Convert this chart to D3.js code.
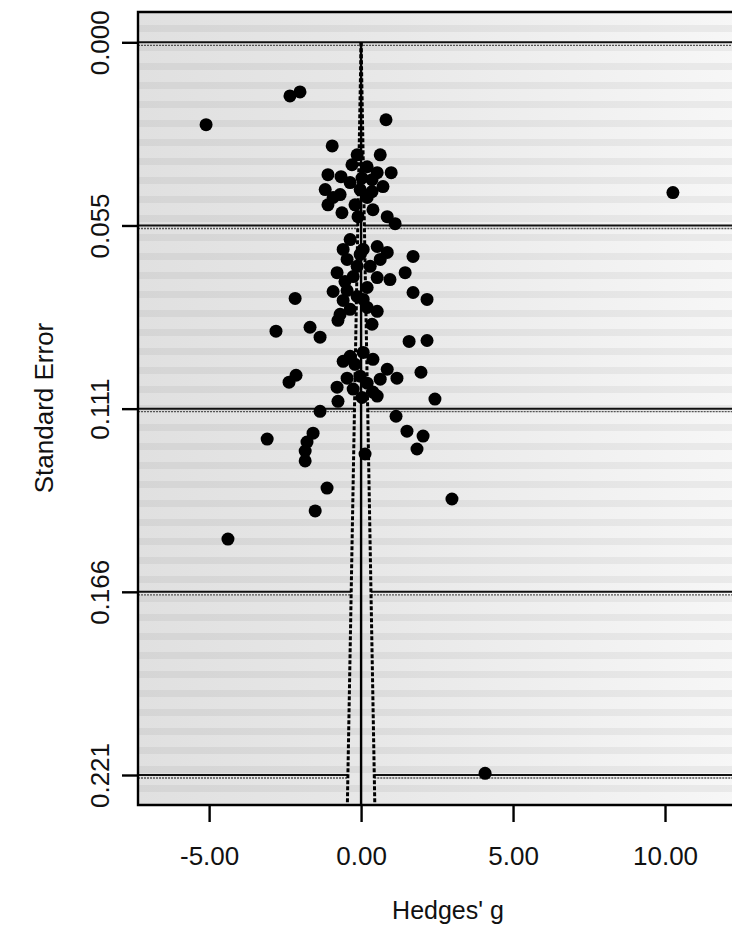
<!DOCTYPE html>
<html><head><meta charset="utf-8">
<script src="https://cdn.jsdelivr.net/npm/d3@7"></script>
<style>body{margin:0;background:#fff}svg{display:block}text{font-family:"Liberation Sans",Arial,sans-serif;fill:#111}</style>
</head><body><svg id="c" width="732" height="942"></svg>
<script>
// Hedges' g per study
const hedgesG = [-5.10,-2.34,-2.01,0.82,-0.95,-0.13,0.63,10.26,-1.09,-0.66,0.20,0.53,0.99,-0.36,0.36,-1.18,-0.69,-0.03,0.36,0.72,
 -1.09,-0.63,-0.10,0.39,0.86,1.12,-0.92,0.20,-0.59,0.07,0.53,0.86,-0.46,0.63,-0.13,0.30,-0.79,0.53,0.95,-0.26,
 1.71,1.45,1.71,2.17,-2.17,-0.92,-0.46,0.20,-0.13,-0.59,0.07,-0.69,-0.36,0.20,0.53,-0.76,-2.80,-1.68,-1.35,1.58,
 2.17,-0.36,0.07,0.39,-0.59,-2.14,-2.37,0.86,1.18,1.97,-0.46,-0.03,0.20,0.39,-0.26,-0.79,-0.76,0.53,2.43,-1.35,
 1.15,1.51,2.04,1.84,0.13,-3.09,-1.58,-1.78,-1.84,-1.84,-1.12,-1.51,2.99,-4.38,4.08,-0.30,0.03,-0.20,-0.36,-0.03,
 -0.53,0.36,-0.20,0.63,0.03];
// Standard error per study
const stdErr = [0.0249,0.0162,0.0150,0.0234,0.0313,0.0340,0.0340,0.0454,0.0400,0.0406,0.0376,0.0394,0.0394,0.0424,0.0415,0.0445,0.0460,0.0445,0.0451,0.0436,
 0.0491,0.0515,0.0527,0.0506,0.0527,0.0548,0.0469,0.0469,0.0626,0.0626,0.0617,0.0635,0.0656,0.0656,0.0677,0.0677,0.0696,0.0711,0.0717,0.0708,
 0.0647,0.0696,0.0756,0.0777,0.0774,0.0753,0.0750,0.0741,0.0768,0.0780,0.0777,0.0822,0.0807,0.0801,0.0813,0.0840,0.0873,0.0861,0.0891,0.0904,
 0.0901,0.0949,0.0937,0.0958,0.0964,0.1006,0.1027,0.0988,0.1015,0.0997,0.1015,0.1009,0.1030,0.1057,0.1048,0.1042,0.1085,0.1069,0.1078,0.1115,
 0.1130,0.1175,0.1190,0.1229,0.1244,0.1199,0.1181,0.1208,0.1235,0.1265,0.1347,0.1416,0.1380,0.1501,0.2209,0.0370,0.0410,0.0491,0.0596,0.0641,
 0.0723,0.0852,0.0973,0.1018,0.1073];
const pooledG = 0.0;
const xTicks = [-5, 0, 5, 10];
const xTickLabels = ["-5.00", "0.00", "5.00", "10.00"];
const yTicks = [0, 0.05535, 0.1107, 0.16605, 0.2214];
const yTickLabels = ["0.000", "0.055", "0.111", "0.166", "0.221"];

const svg = d3.select("#c");
const L = 138, T = 12, B = 805, R = 741;
const x = d3.scaleLinear().domain([-7.34, 12.5]).range([L, R]);
const y = d3.scaleLinear().domain([0, 0.2214]).range([42.3, 775]);
const seMax = y.invert(B);

// background texture (scanned speckle approximated)
const defs = svg.append("defs");
const grad = defs.append("linearGradient").attr("id","bg").attr("x1","0").attr("x2","1").attr("y1","0").attr("y2","0");
grad.append("stop").attr("offset","0").attr("stop-color","#e0e0e0");
grad.append("stop").attr("offset","0.4").attr("stop-color","#e8e8e8");
grad.append("stop").attr("offset","1").attr("stop-color","#f7f7f7");
const pat = defs.append("pattern").attr("id","stripes").attr("patternUnits","userSpaceOnUse").attr("width",40).attr("height",19);
pat.append("rect").attr("width",40).attr("height",7).attr("y",6).attr("fill","#000").attr("opacity",0.05);
svg.append("rect").attr("x",L).attr("y",T).attr("width",R-L).attr("height",B-T).attr("fill","url(#bg)");
svg.append("rect").attr("x",L).attr("y",T).attr("width",R-L).attr("height",B-T).attr("fill","url(#stripes)");

// gridlines broken at funnel
const g = svg.append("g");
yTicks.forEach(t => {
  const half = 1.96 * t;
  const segs = t === 0 ? [[x.domain()[0], x.domain()[1]]] : [[x.domain()[0], pooledG - half], [pooledG + half, x.domain()[1]]];
  segs.forEach(s => {
    g.append("line").attr("x1", x(s[0])).attr("x2", x(s[1])).attr("y1", y(t)).attr("y2", y(t))
      .attr("stroke","#111").attr("stroke-width",2);
    g.append("line").attr("x1", x(s[0])).attr("x2", x(s[1])).attr("y1", y(t)+3).attr("y2", y(t)+3)
      .attr("stroke","#555").attr("stroke-width",1.3).attr("stroke-dasharray","2,1");
  });
});

// funnel lines
svg.append("line").attr("x1", x(pooledG)).attr("x2", x(pooledG)).attr("y1", y(0)).attr("y2", B)
  .attr("stroke","#000").attr("stroke-width",2.4);
[-1, 1].forEach(sgn => {
  svg.append("line").attr("x1", x(pooledG)).attr("y1", y(0))
    .attr("x2", x(pooledG + sgn * 1.96 * seMax)).attr("y2", y(seMax))
    .attr("stroke","#000").attr("stroke-width",3).attr("stroke-dasharray","4,2");
});

// points
svg.append("g").selectAll("circle").data(hedgesG.map((v,i)=>({g:v,se:stdErr[i]}))).join("circle")
  .attr("cx", d => x(d.g)).attr("cy", d => y(d.se)).attr("r", 6.5).attr("fill","#000");

// frame
svg.append("path").attr("d", `M${R},${T}H${L}V${B}H${R}`).attr("fill","none").attr("stroke","#000").attr("stroke-width",2.4);

// x axis
const xa = svg.append("g").attr("transform",`translate(0,${B})`)
  .call(d3.axisBottom(x).tickValues(xTicks).tickSize(17).tickFormat((d,i)=>xTickLabels[i]));
xa.select(".domain").remove();
xa.selectAll(".tick line").attr("stroke","#000").attr("stroke-width",2.4);
xa.selectAll(".tick text").attr("font-size",26).attr("dy",0).attr("y",60).attr("fill","#111")
  .attr("font-family","Liberation Sans, Arial");

// y axis
const ya = svg.append("g").attr("transform",`translate(${L},0)`)
  .call(d3.axisLeft(y).tickValues(yTicks).tickSize(16).tickFormat((d,i)=>yTickLabels[i]));
ya.select(".domain").remove();
ya.selectAll(".tick line").attr("stroke","#000").attr("stroke-width",2.4);
ya.selectAll(".tick text").attr("font-size",26).attr("x",0).attr("dy",0).attr("y",0).attr("fill","#111")
  .attr("text-anchor","middle").attr("transform","translate(-29,0) rotate(-90)")
  .attr("font-family","Liberation Sans, Arial");

// titles
svg.append("text").attr("x",448).attr("y",919).attr("text-anchor","middle").attr("font-size",25).text("Hedges' g");
svg.append("text").attr("transform","translate(53,408) rotate(-90)").attr("text-anchor","middle").attr("font-size",26).text("Standard Error");
</script></body></html>
